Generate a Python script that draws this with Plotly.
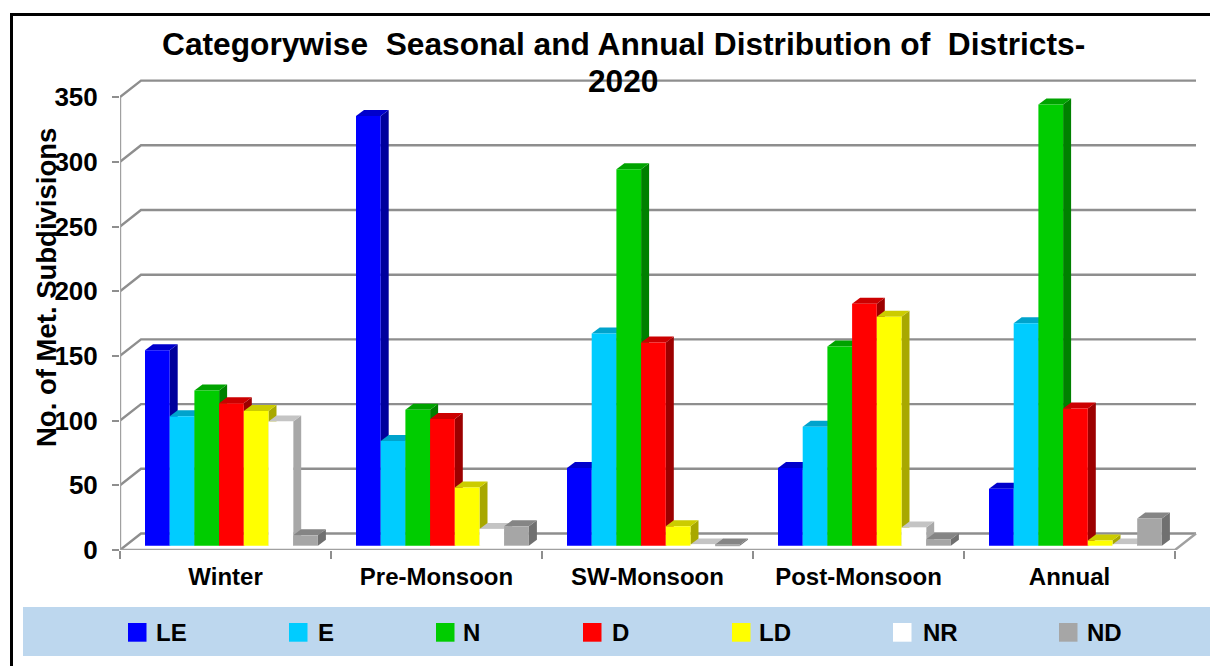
import plotly.graph_objects as go

# ---- data ----
categories = ["Winter", "Pre-Monsoon", "SW-Monsoon", "Post-Monsoon", "Annual"]
LE = [151, 332, 60, 60, 44]
E = [100, 81, 164, 92, 172]
N = [120, 105, 291, 154, 341]
D = [110, 98, 157, 187, 106]
LD = [104, 45, 15, 177, 4]
NR = [96, 13, 1, 14, 1]
ND = [8, 15, 1, 5, 21]
y_ticks = [0, 50, 100, 150, 200, 250, 300, 350]
series_names = ["LE", "E", "N", "D", "LD", "NR", "ND"]
series_values = [LE, E, N, D, LD, NR, ND]

# ---- styles ----
colors = ["#0000FF", "#00CCFF", "#00CC00", "#FF0000", "#FFFF00", "#FFFFFF", "#A6A6A6"]
tops = ["#0000CC", "#00A3CC", "#00A300", "#CC0000", "#CCCC00", "#C4C4C4", "#858585"]
sides = ["#00009C", "#007F9C", "#008000", "#9C0000", "#A8A800", "#A8A8A8", "#707070"]
GRID = "#8E8E8E"
FONT = "Liberation Sans"
W, H = 1210, 666

# ---- geometry (pixels of the page) ----
X0, CAT_W = 120, 211
Y0, UNIT = 550, 1.294
X_END, Y_TOP = 1200, 71.2
WALL_DX, WALL_DY = 21 / CAT_W, 16.5 / UNIT
BAR_DX, BAR_DY = 8 / CAT_W, 6 / UNIT
BASE = 4.3 / UNIT
BAR_W = 24.7 / CAT_W
BAR_START = 25 / CAT_W
x_max = (X_END - X0) / CAT_W
y_max = (Y0 - Y_TOP) / UNIT
SHIFT = (BAR_START + 7 * BAR_W / 2) - 0.5


def px(x):
    return x / W


def py(y):
    return 1 - y / H


fig = go.Figure()


def line(xs, ys, width=2.4, color=GRID):
    fig.add_trace(go.Scatter(x=xs, y=ys, mode="lines", line=dict(color=color, width=width),
                             cliponaxis=False, hoverinfo="skip", showlegend=False))


n_cat = len(categories)
wall_end = n_cat + WALL_DX
for t in y_ticks:
    line([0, WALL_DX, wall_end], [t, t + WALL_DY, t + WALL_DY])
line([0, 0], [0, y_ticks[-1]], color="#A0A0A0")
line([0, n_cat, wall_end], [0, 0, WALL_DY], color="#A0A0A0")

# side and top faces, left to right
for g in range(n_cat):
    for j, vals in enumerate(series_values):
        v = vals[g]
        l = g + BAR_START + j * BAR_W
        r = l + BAR_W
        fig.add_trace(go.Scatter(
            x=[r, r + BAR_DX, r + BAR_DX, r, r],
            y=[BASE, BASE + BAR_DY, BASE + v + BAR_DY, BASE + v, BASE],
            mode="lines", fill="toself", fillcolor=sides[j], line=dict(width=0, color=sides[j]),
            hoverinfo="skip", showlegend=False))
        fig.add_trace(go.Scatter(
            x=[l, l + BAR_DX, r + BAR_DX, r, l],
            y=[BASE + v, BASE + v + BAR_DY, BASE + v + BAR_DY, BASE + v, BASE + v],
            mode="lines", fill="toself", fillcolor=tops[j], line=dict(width=0, color=tops[j]),
            hoverinfo="skip", showlegend=False))

# front faces, on the overlay axes so they cover the neighbours' sides
centres = [i + 0.5 for i in range(n_cat)]
for name, vals, col in zip(series_names, series_values, colors):
    fig.add_trace(go.Bar(name=name, x=centres, y=vals, marker=dict(color=col, line=dict(width=0)),
                         xaxis="x2", yaxis="y2", showlegend=False))

shapes = [
    dict(type="rect", xref="paper", yref="paper", x0=px(23), x1=px(1210), y0=py(656), y1=py(607),
         fillcolor="#BDD7EE", line=dict(width=0), layer="below"),
    dict(type="rect", xref="paper", yref="paper", x0=px(10), x1=px(13), y0=py(666), y1=py(13),
         fillcolor="#000000", line=dict(width=0), layer="below"),
    dict(type="rect", xref="paper", yref="paper", x0=px(10), x1=px(1210), y0=py(16), y1=py(13),
         fillcolor="#000000", line=dict(width=0), layer="below"),
]
annotations = [
    dict(text="<b>Categorywise\u00a0\u00a0Seasonal and Annual Distribution of\u00a0\u00a0Districts-</b>",
         xref="paper", yref="paper", x=px(623), y=py(44), xanchor="center", yanchor="middle",
         showarrow=False, font=dict(family=FONT, size=31.7, color="#000000")),
    dict(text="<b>2020</b>", xref="paper", yref="paper", x=px(623), y=py(81), xanchor="center", yanchor="middle",
         showarrow=False, font=dict(family=FONT, size=31.7, color="#000000")),
    dict(text="<b>No. of Met. Subdivisions</b>", xref="paper", yref="paper", x=px(46), y=py(288),
         xanchor="center", yanchor="middle", textangle=-90, showarrow=False,
         font=dict(family=FONT, size=27.5, color="#000000")),
]

swatch_left = [128, 289, 436, 583, 732, 893, 1059]
label_left = [156, 318, 463, 612, 759, 923, 1087]
for name, col, sx, lx in zip(series_names, colors, swatch_left, label_left):
    shapes.append(dict(type="rect", xref="paper", yref="paper", x0=px(sx), x1=px(sx + 18.5),
                       y0=py(641.7), y1=py(623), fillcolor=col, line=dict(width=0), layer="below"))
    annotations.append(dict(text=f"<b>{name}</b>", xref="paper", yref="paper", x=px(lx), y=py(632),
                            xanchor="left", yanchor="middle", showarrow=False, xshift=-2,
                            font=dict(family=FONT, size=24, color="#000000")))

dom_x = [px(X0), px(X_END)]
dom_y = [py(Y0), py(Y_TOP)]
fig.update_layout(
    width=W, height=H, margin=dict(l=0, r=0, t=0, b=0),
    paper_bgcolor="#FFFFFF", plot_bgcolor="rgba(0,0,0,0)",
    barmode="group", bargap=1 - 7 * BAR_W, bargroupgap=0, showlegend=False,
    xaxis=dict(domain=dom_x, range=[0, x_max], tickmode="array", tickvals=centres, ticktext=categories,
               automargin=False,
               ticks="", showgrid=False, zeroline=False, showline=False, ticklabelstandoff=10,
               tickfont=dict(family=FONT, size=24, color="#000000", weight="bold"),
               minor=dict(tickmode="array", tickvals=list(range(n_cat + 1)), ticks="outside", ticklen=8,
                          tickwidth=1.5, tickcolor=GRID, showgrid=False)),
    yaxis=dict(domain=dom_y, range=[0, y_max], tickmode="array", tickvals=y_ticks, ticks="outside",
               automargin=False,
               ticklen=7, tickwidth=1.5, tickcolor=GRID, showgrid=False, zeroline=False, showline=False,
               ticklabelstandoff=9,
               tickfont=dict(family=FONT, size=26, color="#000000", weight="bold")),
    xaxis2=dict(domain=dom_x, overlaying="x", range=[-SHIFT, x_max - SHIFT], visible=False, automargin=False),
    yaxis2=dict(domain=dom_y, overlaying="y", range=[-BASE, y_max - BASE], visible=False, automargin=False),
    shapes=shapes, annotations=annotations,
)

fig.write_html("out.html", config={"displayModeBar": False, "responsive": False},
               post_script="document.body.style.margin='0';document.body.style.overflow='hidden';")
